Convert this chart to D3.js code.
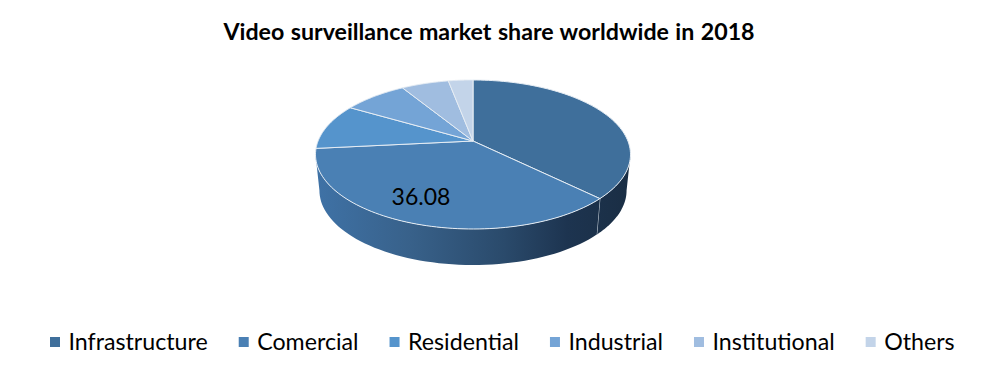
<!DOCTYPE html>
<html><head><meta charset="utf-8">
<script src="https://cdnjs.cloudflare.com/ajax/libs/d3/7.8.5/d3.min.js"></script>
<style>html,body{margin:0;background:#fff}svg{display:block}text{font-family:Lato,"Open Sans",sans-serif;fill:#000}</style>
</head><body><svg id="c" width="983" height="385"></svg>
<script>
const chartTitle = "Video surveillance market share worldwide in 2018";
const categories = ["Infrastructure","Comercial","Residential","Industrial","Institutional","Others"];
const shares = [37.3, 36.08, 10, 7.8, 5.8, 3];
const colors = ["#3f6f9b","#4a80b4","#5594cc","#74a4d6","#a0bde0","#c3d4e9"];
const labelled = "Comercial";

const svg = d3.select("#c");
// perspective projection of a tilted disc: hub sits above the ellipse centre
const hx = 473, hy = 141, A = 154.9, B = 72.05, k = 0.1812, depth = 36, taper = 0.975;
const arcs = d3.pie().sort(null).value((d,i)=>shares[i])(categories);
const w = a => 1 + k*Math.cos(a);
const px = a => hx + A*Math.sin(a)/w(a);
const py = a => hy - B*Math.cos(a)/w(a);
const samples = (a0,a1,n) => d3.range(0,n+1).map(j=>a0+(a1-a0)*j/n);

const defs = svg.append("defs");
const grad = defs.append("linearGradient").attr("id","wall").attr("gradientUnits","userSpaceOnUse")
  .attr("x1",hx-157).attr("x2",hx+157).attr("y1",0).attr("y2",0);
[[0,"#3f72a6"],[0.3,"#38618a"],[0.6,"#2a4a6b"],[0.8,"#1d3450"],[1,"#1a2e44"]]
  .forEach(s=>grad.append("stop").attr("offset",s[0]).attr("stop-color",s[1]));

// wall: only where the rim faces the viewer (between the ellipse's side extremes)
const wallFrom = Math.acos(-k), wallTo = 2*Math.PI - Math.acos(-k);
const bx = a => hx + taper*(px(a)-hx), by = a => py(a)+depth;
const wall = d3.area().x0(d=>px(d)).x1(d=>bx(d)).y0(d=>py(d)).y1(d=>by(d));
arcs.forEach(d=>{
  const a0 = Math.max(d.startAngle, wallFrom), a1 = Math.min(d.endAngle, wallTo);
  if (a1 <= a0) return;
  svg.append("path").attr("d",wall(samples(a0,a1,60))).attr("fill","url(#wall)");
  if (d.endAngle < wallTo) svg.append("line")
    .attr("x1",px(a1)).attr("y1",py(a1)).attr("x2",bx(a1)).attr("y2",by(a1))
    .attr("stroke","#c9d3dc").attr("stroke-width",1);
});

// top face
const rim = d3.line().x(d=>d[0]).y(d=>d[1]);
svg.append("g").selectAll("path").data(arcs).join("path")
  .attr("d",d=>rim([[hx,hy],...samples(d.startAngle,d.endAngle,80).map(a=>[px(a),py(a)])])+"Z")
  .attr("fill",(d,i)=>colors[i])
  .attr("stroke","#e6edf4").attr("stroke-width",1).attr("stroke-linejoin","round");

// data label
svg.append("text").attr("x",421).attr("y",205).attr("text-anchor","middle")
  .attr("font-size",23).text(shares[categories.indexOf(labelled)].toFixed(2));

// title
svg.append("text").attr("x",489).attr("y",40).attr("text-anchor","middle")
  .attr("font-size",23.2).attr("font-weight",700).attr("word-spacing",0.8).text(chartTitle);

// legend
const leg = svg.append("g");
let lx = 50;
categories.forEach((c,i)=>{
  leg.append("rect").attr("x",lx).attr("y",337).attr("width",10).attr("height",10).attr("fill",colors[i]);
  const t = leg.append("text").attr("x",lx+18.5).attr("y",350).attr("font-size",23.2).text(c);
  lx += 18.5 + t.node().getComputedTextLength() + 31;
});
</script></body></html>
